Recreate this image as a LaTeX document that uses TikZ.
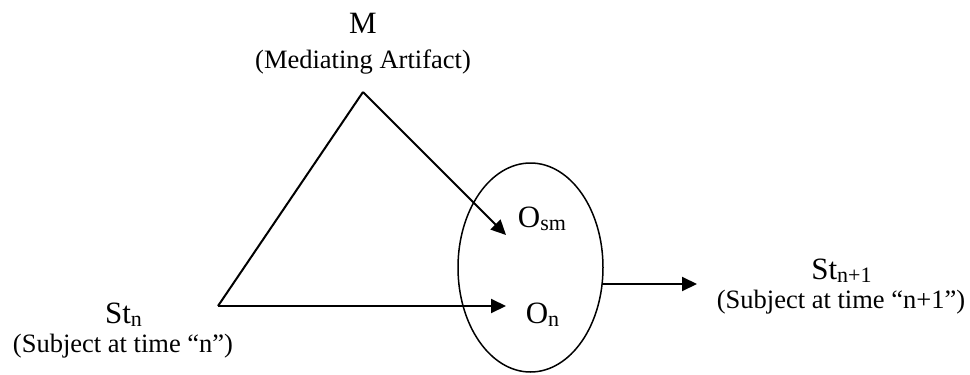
\documentclass[tikz,border=0pt]{standalone}
\usepackage{fontspec}
\setmainfont{Liberation Serif}
\usetikzlibrary{arrows.meta,shapes.geometric}
\newcommand{\mysub}[1]{\raisebox{-3.5pt}{\fontsize{22}{22}\selectfont #1}}
\tikzset{
  big/.style={font=\fontsize{31}{31}\selectfont, anchor=base, inner sep=0pt},
  small/.style={font=\fontsize{26.5}{26.5}\selectfont, anchor=base, inner sep=0pt},
  line/.style={line width=2pt},
  arr/.style={line width=2pt, -{Triangle[length=15pt,width=14pt]}}
}
\begin{document}
\begin{tikzpicture}[x=1pt,y=-1pt]
\useasboundingbox (0,0) rectangle (970,375);
\node[big] (M) at (363,33) {M};
\node[small] (Mlab) at (363,68) {(Mediating Artifact)};
\coordinate (apex) at (363,92);
\coordinate (corner) at (218,306);
\node[draw, ellipse, line width=1.5pt, minimum width=145pt, minimum height=209pt, inner sep=0pt] (ell) at (530.5,267.5) {};
\node[big] (osm) at (542,227) {O\mysub{sm}};
\node[big] (on) at (542.5,323) {O\mysub{n}};
\coordinate (tipsm) at (506,235);
\coordinate (tipn) at (506,306);
\coordinate (outs) at (602,284);
\coordinate (oute) at (697,284);
\node[big] (stn1) at (841.5,279) {St\mysub{n+1}};
\node[small] (stn1lab) at (841,308) {(Subject at time “n+1”)};
\node[big] (stn) at (123.5,323) {St\mysub{n}};
\node[small] (stnlab) at (123,352) {(Subject at time “n”)};
\draw[line] (corner) -- (apex);
\draw[arr] (apex) -- (tipsm);
\draw[arr] (corner) -- (tipn);
\draw[arr] (outs) -- (oute);
\end{tikzpicture}
\end{document}
